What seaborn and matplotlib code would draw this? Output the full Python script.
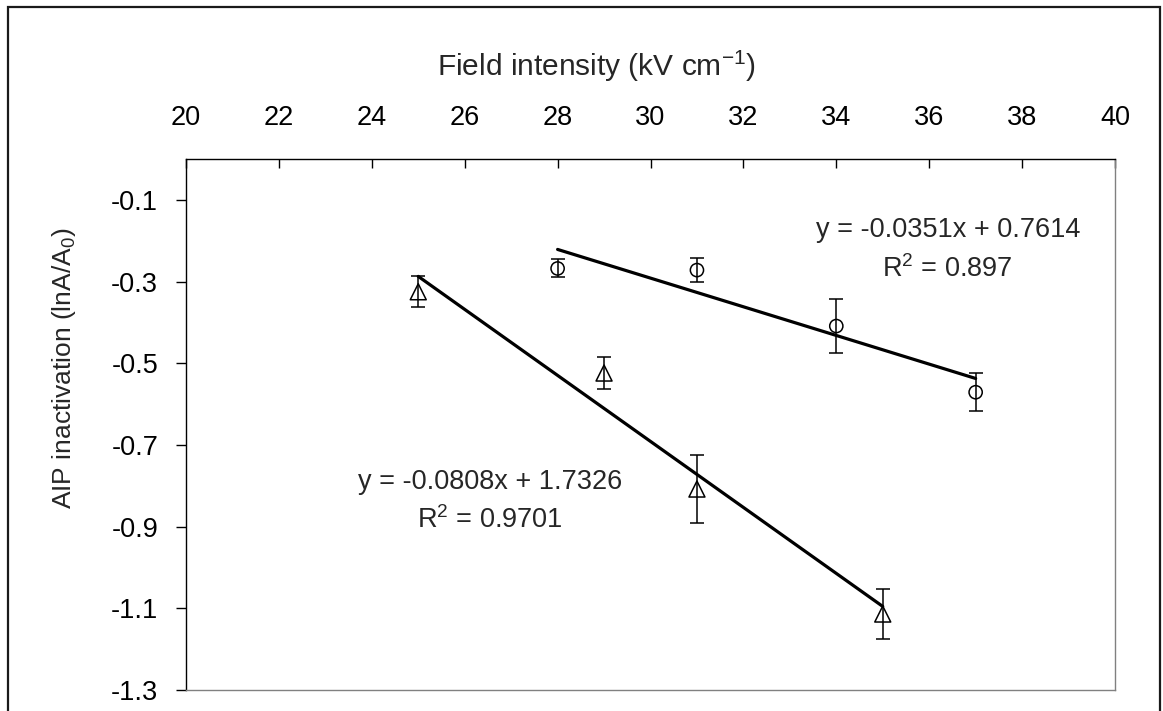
import numpy as np
import pandas as pd
import matplotlib
matplotlib.use("Agg")
import matplotlib.pyplot as plt
from matplotlib.patches import Rectangle
import seaborn as sns

# ---- data ----
circle_x = [28, 31, 34, 37]
circle_y = [-0.268, -0.272, -0.409, -0.571]
circle_err = [0.022, 0.030, 0.067, 0.047]

tri_x = [25, 29, 31, 35]
tri_y = [-0.325, -0.524, -0.808, -1.114]
tri_err = [0.038, 0.040, 0.083, 0.061]

circle_fit = (-0.0351, 0.7614)
tri_fit = (-0.0808, 1.7326)

x_ticks = [20, 22, 24, 26, 28, 30, 32, 34, 36, 38, 40]
y_ticks = [-1.3, -1.1, -0.9, -0.7, -0.5, -0.3, -0.1]

sns.set_theme(style="white")
plt.rcParams['font.family'] = ['Liberation Sans', 'DejaVu Sans']
plt.rcParams['mathtext.fontset'] = 'custom'
plt.rcParams['mathtext.rm'] = 'Liberation Sans'
plt.rcParams['mathtext.it'] = 'Liberation Sans'
plt.rcParams['mathtext.default'] = 'regular'

FS = 19.5
W, H = 1163, 711
fig = plt.figure(figsize=(W / 100, H / 100), dpi=100)
L, R, T, B = 186, 1115, 159, 690
ax = fig.add_axes([L / W, 1 - B / H, (R - L) / W, (B - T) / H])

# outer border
fig.patches.append(Rectangle((8 / W, -0.05), (1160 - 8) / W, (H - 7) / H + 0.05,
                             transform=fig.transFigure, fill=False,
                             edgecolor='#1a1a1a', linewidth=1.6, zorder=0))

# trend lines
for xs, (m, c) in [(circle_x, circle_fit), (tri_x, tri_fit)]:
    xr = np.array([min(xs), max(xs)], dtype=float)
    df = pd.DataFrame({'x': xr, 'y': m * xr + c})
    sns.lineplot(data=df, x='x', y='y', ax=ax, color='black', linewidth=2.3,
                 zorder=3, legend=False)

# error bars + markers
ax.errorbar(circle_x, circle_y, yerr=circle_err, fmt='none', ecolor='black',
            elinewidth=1.1, capsize=5, capthick=1.1, zorder=4)
ax.errorbar(tri_x, tri_y, yerr=tri_err, fmt='none', ecolor='black',
            elinewidth=1.1, capsize=5, capthick=1.1, zorder=4)
sns.scatterplot(x=circle_x, y=circle_y, ax=ax, marker='o', s=9.5 ** 2,
                facecolor='none', edgecolor='black', linewidth=1.1, zorder=5)
sns.scatterplot(x=tri_x, y=tri_y, ax=ax, marker='^', s=11.5 ** 2,
                facecolor='none', edgecolor='black', linewidth=1.1, zorder=5)

ax.set_xlim(20, 40)
ax.set_ylim(-1.3, 0.0)
ax.set_xticks(x_ticks)
ax.set_yticks(y_ticks)
ax.set_xticklabels([str(v) for v in x_ticks])
ax.set_yticklabels([f"{v:.1f}" for v in y_ticks])

ax.xaxis.tick_top()
ax.xaxis.set_label_position('top')
ax.tick_params(axis='x', direction='in', length=6.5, width=1, pad=20.5,
               labelsize=FS, colors='black', top=True, bottom=False)
ax.tick_params(axis='y', direction='out', length=7, width=1, pad=13,
               labelsize=FS, colors='black', left=True)

for s in ['top', 'left']:
    ax.spines[s].set_color('black')
    ax.spines[s].set_linewidth(1.0)
for s in ['bottom', 'right']:
    ax.spines[s].set_color('#808080')
    ax.spines[s].set_linewidth(1.0)
    ax.spines[s].set_visible(True)

ax.set_xlabel('Field intensity (kV cm$^{-1}$)', fontsize=21.5)
ax.xaxis.set_label_coords((596 - L) / (R - L), (B - 76) / (B - T))
ax.set_ylabel('AIP inactivation (lnA/A$_0$)', fontsize=19)
ax.yaxis.set_label_coords((78 - L) / (R - L), (B - 368) / (B - T))

# annotations
ax.text(36.4, -0.1735, 'y = -0.0351x + 0.7614', fontsize=FS, ha='center', va='center')
ax.text(36.4, -0.269, 'R$^2$ = 0.897', fontsize=FS, ha='center', va='center')
ax.text(26.55, -0.791, 'y = -0.0808x + 1.7326', fontsize=FS, ha='center', va='center')
ax.text(26.55, -0.884, 'R$^2$ = 0.9701', fontsize=FS, ha='center', va='center')

fig.savefig('out.png', dpi=100)
